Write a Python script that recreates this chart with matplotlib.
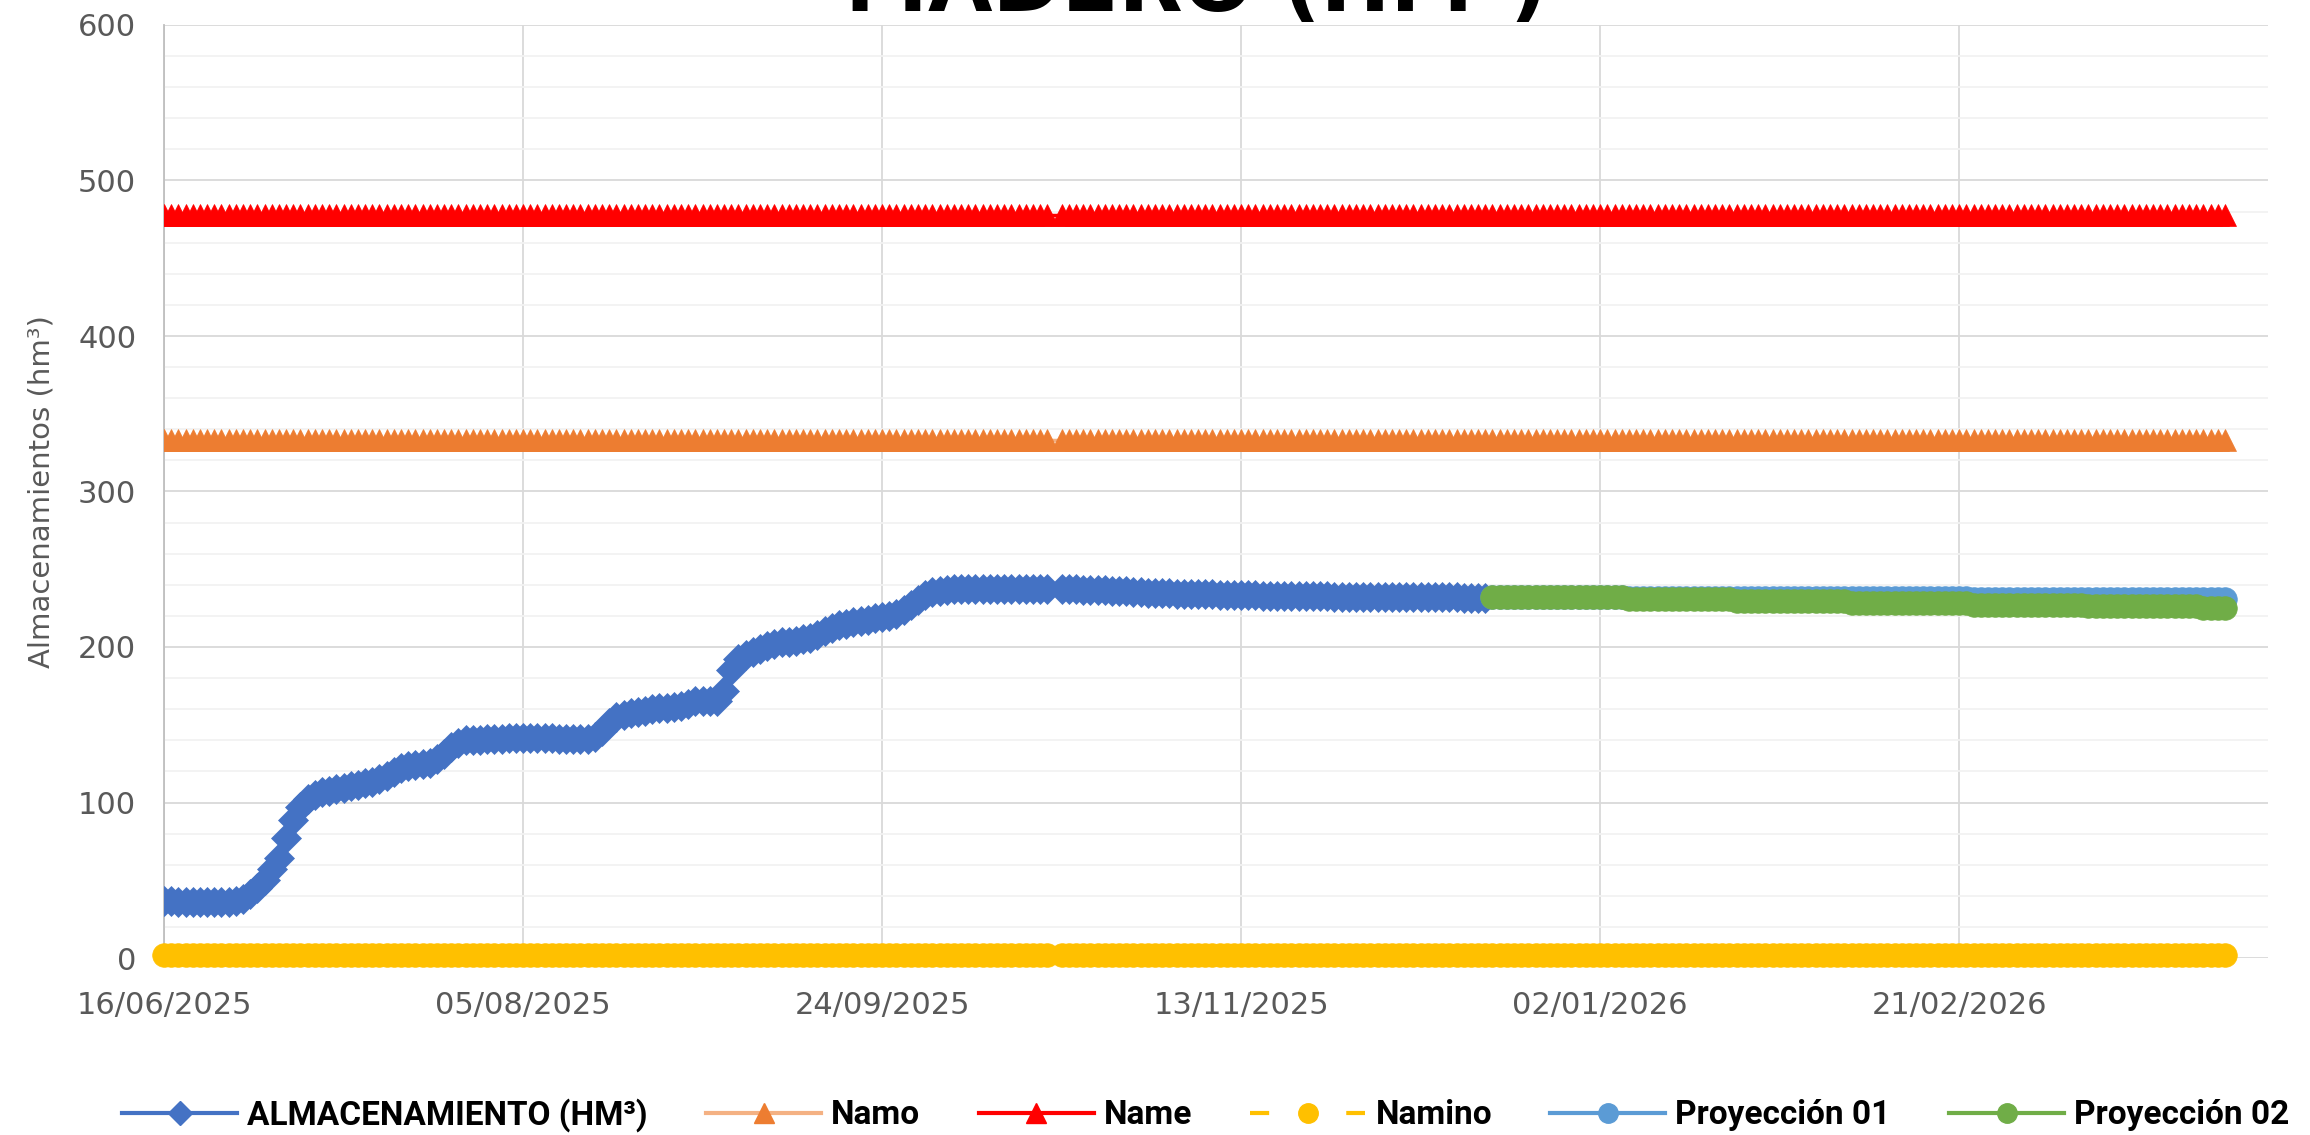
import matplotlib
matplotlib.use("Agg")
import matplotlib.pyplot as plt
from matplotlib.lines import Line2D
import numpy as np
import pandas as pd

# ---------------- data ----------------
start_date = "2025-06-16"
obs_end_date = "2025-12-17"
proj_start_date = "2025-12-18"
end_date = "2026-03-30"
missing_date = "2025-10-18"

almacenamiento = [
    36.5, 36.4, 36.3, 36.3, 36.2, 36.2, 36.1, 36.1, 36.2, 36.3,
    36.8, 38.0, 41.0, 45.0, 50.0, 57.0, 64.0, 77.0, 89.0, 97.0,
    102.0, 105.0, 106.5, 107.5, 108.5, 109.5, 110.5, 111.5, 112.5, 113.5,
    115.0, 117.0, 119.5, 122.0, 123.5, 124.0, 124.5, 125.5, 128.0, 131.5,
    135.5, 138.5, 140.0, 140.5, 140.5, 141.0, 141.0, 141.0, 141.2, 141.2,
    141.3, 141.3, 141.2, 141.2, 141.2, 141.1, 141.1, 141.0, 141.0, 141.0,
    142.0, 146.0, 151.0, 155.0, 156.5, 157.5, 158.5, 159.0, 160.0, 160.5,
    161.0, 161.5, 162.0, 163.5, 165.0, 165.5, 165.0, 165.0, 172.0, 185.0,
    192.0, 195.0, 197.0, 199.0, 200.5, 202.0, 203.0, 203.5, 204.0, 205.0,
    206.0, 208.0, 210.5, 212.5, 214.0, 215.0, 216.0, 216.5, 217.5, 218.5,
    219.5, 220.0, 221.0, 224.0, 227.0, 230.5, 233.5, 235.5, 236.0, 236.5,
    237.0, 237.3, 237.5, 237.6, 237.6, 237.6, 237.5, 237.5, 237.5, 237.4,
    237.4, 237.3, 237.3, 237.2,
    237.2, 237.1, 237.0, 236.9, 236.8,
    236.6, 236.4, 236.2, 236.0, 235.8, 235.5, 235.2, 235.0, 234.8, 234.6,
    234.5, 234.4, 234.2, 234.1, 234.0, 233.9, 233.8, 233.7, 233.6, 233.5,
    233.4, 233.3, 233.2, 233.1, 233.0, 233.0, 232.9, 232.9, 232.8, 232.8,
    232.7, 232.6, 232.5, 232.4, 232.3, 232.3, 232.2, 232.2, 232.2, 232.1,
    232.1, 232.1, 232.0, 232.0, 232.0, 232.0, 231.9, 231.9, 231.9, 231.9,
    231.9, 231.8, 231.8, 231.8, 231.8,
]

proyeccion_01 = [
    231.9, 231.9, 231.9, 231.9, 231.9, 231.9, 231.9, 231.9, 231.9, 231.9,
    231.9, 231.9, 231.9, 231.9, 231.9, 231.9, 231.9, 231.9, 231.9,
    231.7, 231.7, 231.7, 231.7, 231.7, 231.7, 231.7, 231.7, 231.7, 231.7,
    231.7, 231.7, 231.7, 231.7, 231.7,
    231.5, 231.5, 231.5, 231.5, 231.5, 231.5, 231.5, 231.5, 231.5, 231.5,
    231.5, 231.5, 231.5, 231.5, 231.5, 231.5,
    231.3, 231.3, 231.3, 231.3, 231.3, 231.3, 231.3, 231.3, 231.3, 231.3,
    231.3, 231.3, 231.3, 231.3, 231.3, 231.3, 231.3,
    231.1, 231.1, 231.1, 231.1, 231.1, 231.1, 231.1, 231.1, 231.1, 231.1,
    231.1, 231.1, 231.1, 231.1, 231.1, 231.1,
    230.9, 230.9, 230.9, 230.9, 230.9, 230.9, 230.9, 230.9, 230.9, 230.9,
    230.9, 230.9, 230.9, 230.9, 230.9, 230.9,
    230.7, 230.7, 230.7, 230.7,
]

proyeccion_02 = [
    232.0, 232.0, 232.0, 232.0, 232.0, 232.0, 232.0, 232.0, 232.0, 232.0,
    232.0, 232.0, 232.0, 232.0, 232.0, 232.0, 232.0, 232.0, 232.0,
    230.9, 230.9, 230.9, 230.9, 230.9, 230.9, 230.9, 230.9, 230.9, 230.9,
    230.9, 230.9, 230.9, 230.9, 230.9,
    229.7, 229.7, 229.7, 229.7, 229.7, 229.7, 229.7, 229.7, 229.7, 229.7,
    229.7, 229.7, 229.7, 229.7, 229.7, 229.7,
    228.5, 228.5, 228.5, 228.5, 228.5, 228.5, 228.5, 228.5, 228.5, 228.5,
    228.5, 228.5, 228.5, 228.5, 228.5, 228.5, 228.5,
    227.3, 227.3, 227.3, 227.3, 227.3, 227.3, 227.3, 227.3, 227.3, 227.3,
    227.3, 227.3, 227.3, 227.3, 227.3, 227.3,
    226.1, 226.1, 226.1, 226.1, 226.1, 226.1, 226.1, 226.1, 226.1, 226.1,
    226.1, 226.1, 226.1, 226.1, 226.1, 226.1,
    225.0, 225.0, 225.0, 225.0,
]

namo_value = 333.0
name_value = 478.0
namino_value = 2.0

x_tick_labels = ["16/06/2025", "05/08/2025", "24/09/2025", "13/11/2025",
                 "02/01/2026", "21/02/2026"]
x_max_date = "2026-04-05"
y_ticks = [0, 100, 200, 300, 400, 500, 600]

title_text = "MADERO (HM³)"
y_label = "Almacenamientos (hm³)"
series_names = ["ALMACENAMIENTO (HM³)", "Namo", "Name", "Namino",
                "Proyección 01", "Proyección 02"]

# ---------------- dates ----------------
miss = pd.Timestamp(missing_date)
obs_dates = pd.date_range(start_date, obs_end_date, freq="D")
obs_dates = obs_dates[obs_dates != miss]
all_dates = pd.date_range(start_date, end_date, freq="D")
all_dates = all_dates[all_dates != miss]
proj_dates = pd.date_range(proj_start_date, end_date, freq="D")

namo = np.full(len(all_dates), namo_value)
name = np.full(len(all_dates), name_value)
namino = np.full(len(all_dates), namino_value)

# ---------------- colours ----------------
c_alm = "#4472C4"
c_namo_line = "#F4B183"
c_namo_mark = "#ED7D31"
c_name = "#FF0000"
c_namino = "#FFC000"
c_p1 = "#5B9BD5"
c_p2 = "#70AD47"

W, H = 2310, 1135
fig = plt.figure(figsize=(W / 100, H / 100), dpi=100)
left, right, bottom, top = 164 / W, 2268 / W, 1 - 958 / H, 1 - 25 / H
ax = fig.add_axes([left, bottom, right - left, top - bottom])

ax.plot(obs_dates, almacenamiento, color=c_alm, lw=2.5, marker="D", ms=15,
        mfc=c_alm, mec=c_alm, mew=0.5, zorder=3)
ax.plot(all_dates, namo, color=c_namo_line, lw=2.5, marker="^", ms=16,
        mfc=c_namo_mark, mec=c_namo_mark, mew=0.5, zorder=3)
ax.plot(all_dates, name, color=c_name, lw=2.5, marker="^", ms=16,
        mfc=c_name, mec=c_name, mew=0.5, zorder=3)
ax.plot(all_dates, namino, color=c_namino, lw=2.5, ls=(0, (4, 3)), marker="o",
        ms=17, mfc=c_namino, mec=c_namino, mew=0.5, zorder=3, clip_on=False)
ax.plot(proj_dates, proyeccion_01, color=c_p1, lw=2.5, marker="o", ms=17,
        mfc=c_p1, mec=c_p1, mew=0.5, zorder=3)
ax.plot(proj_dates, proyeccion_02, color=c_p2, lw=2.5, marker="o", ms=17,
        mfc=c_p2, mec=c_p2, mew=0.5, zorder=3)

# axes
tick_dates = pd.to_datetime(x_tick_labels, dayfirst=True)
ax.set_xlim(pd.Timestamp(start_date), pd.Timestamp(x_max_date))
ax.set_xticks(tick_dates)
ax.set_xticklabels(x_tick_labels)
ax.set_ylim(0, 600)
ax.set_yticks(y_ticks)
ax.set_yticks(np.arange(0, 601, 20), minor=True)

ax.grid(which="major", axis="both", color="#D9D9D9", lw=1.3, zorder=0)
ax.grid(which="minor", axis="y", color="#F2F2F2", lw=1.3, zorder=0)
ax.set_axisbelow(True)
for s in ["top", "right", "bottom"]:
    ax.spines[s].set_visible(False)
ax.spines["left"].set_color("#BFBFBF")
ax.spines["left"].set_linewidth(1.3)
ax.tick_params(axis="both", which="both", length=0, labelsize=22,
               labelcolor="#595959")
ax.tick_params(axis="x", pad=24)
ax.tick_params(axis="y", pad=20)

ax.set_ylabel(y_label, fontsize=21, color="#595959", labelpad=16)

fig.text(0.518, 1 - 11 / H, title_text, ha="center", va="baseline",
         fontsize=60, fontweight="bold", color="black")

# legend
handles = [
    Line2D([], [], color=c_alm, lw=3, marker="D", ms=12, mfc=c_alm, mec=c_alm),
    Line2D([], [], color=c_namo_line, lw=3, marker="^", ms=15, mfc=c_namo_mark, mec=c_namo_mark),
    Line2D([], [], color=c_name, lw=3, marker="^", ms=15, mfc=c_name, mec=c_name),
    Line2D([], [], color=c_namino, lw=3, ls=(0, (4.6, 18.5)), marker="o", ms=14,
           mfc=c_namino, mec=c_namino),
    Line2D([], [], color=c_p1, lw=3, marker="o", ms=14, mfc=c_p1, mec=c_p1),
    Line2D([], [], color=c_p2, lw=3, marker="o", ms=14, mfc=c_p2, mec=c_p2),
]
leg = fig.legend(handles, series_names, loc="center",
                 bbox_to_anchor=(0.522, 1 - 1115 / H), ncol=6, frameon=False,
                 handlelength=3.45, columnspacing=1.75, handletextpad=0.3,
                 prop={"family": ["Roboto", "DejaVu Sans"],
                       "weight": "bold", "size": 24})

fig.savefig("out.png", dpi=100)
